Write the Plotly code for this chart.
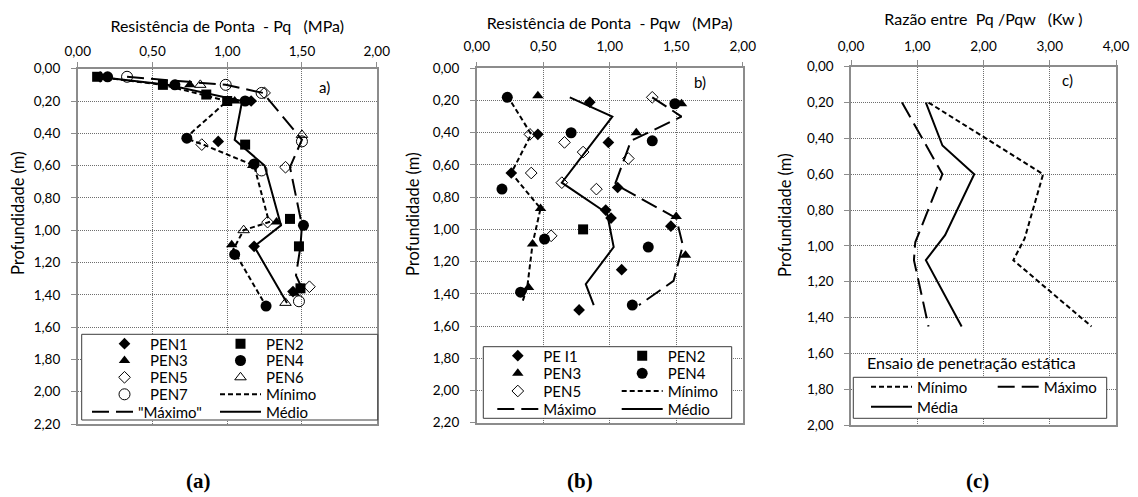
import plotly.graph_objects as go

W, H = 1138, 497
FONT = "Lato"
BLACK = "#000000"
AXIS_GREY = "#8c8c8c"
GRID_GREY = "#6e6e6e"

# ---------------- Panel (a): Pq (MPa) against depth (m) ----------------
a_pen1_depth = [0.05, 0.20, 0.45, 1.10, 1.38]
a_pen1_pq = [0.15, 1.16, 0.94, 1.18, 1.44]
a_pen2_depth = [0.05, 0.10, 0.16, 0.20, 0.47, 0.93, 1.10, 1.36]
a_pen2_pq = [0.13, 0.57, 0.86, 1.00, 1.12, 1.42, 1.48, 1.49]
a_pen3_depth = [0.10, 0.20, 0.60, 0.95, 1.09, 1.39]
a_pen3_pq = [0.75, 1.05, 1.17, 1.33, 1.03, 1.45]
a_pen4_depth = [0.05, 0.10, 0.20, 0.43, 0.59, 0.97, 1.15, 1.47]
a_pen4_pq = [0.20, 0.65, 1.12, 0.73, 1.18, 1.51, 1.05, 1.26]
a_pen5_depth = [0.15, 0.47, 0.61, 0.95, 1.35]
a_pen5_pq = [1.25, 0.83, 1.39, 1.27, 1.55]
a_pen6_depth = [0.10, 0.41, 1.00, 1.45]
a_pen6_pq = [0.82, 1.50, 1.11, 1.39]
a_pen7_depth = [0.05, 0.10, 0.15, 0.45, 0.63, 1.44]
a_pen7_pq = [0.33, 0.99, 1.23, 1.50, 1.23, 1.48]
a_min_depth = [0.05, 0.10, 0.20, 0.43, 0.47, 0.60, 0.95, 1.00, 1.12, 1.47]
a_min_pq = [0.13, 0.57, 1.00, 0.72, 0.84, 1.18, 1.28, 1.11, 1.04, 1.26]
a_max_depth = [0.05, 0.10, 0.15, 0.44, 0.61, 0.97, 1.10, 1.28, 1.36]
a_max_pq = [0.33, 0.99, 1.24, 1.50, 1.42, 1.50, 1.49, 1.46, 1.50]
a_avg_depth = [0.05, 0.10, 0.20, 0.44, 0.60, 0.97, 1.10, 1.45]
a_avg_pq = [0.13, 0.60, 1.10, 1.05, 1.25, 1.36, 1.18, 1.40]

# ---------------- Panel (b): Pqw (MPa) against depth (m) ----------------
b_pei1_depth = [0.21, 0.41, 0.46, 0.65, 0.74, 0.88, 0.93, 0.98, 1.25, 1.50]
b_pei1_pqw = [0.85, 0.46, 0.99, 0.26, 1.06, 0.97, 1.01, 1.46, 1.09, 0.77]
b_pen2_depth = [1.00]
b_pen2_pqw = [0.80]
b_pen3_depth = [0.17, 0.22, 0.40, 0.87, 0.92, 1.09, 1.16, 1.36]
b_pen3_pqw = [0.46, 1.54, 1.20, 0.48, 1.50, 0.42, 1.57, 0.39]
b_pen4_depth = [0.18, 0.22, 0.40, 0.45, 0.75, 1.06, 1.11, 1.39, 1.47]
b_pen4_pqw = [0.23, 1.49, 0.71, 1.32, 0.19, 0.51, 1.29, 0.33, 1.17]
b_pen5_depth = [0.18, 0.41, 0.46, 0.52, 0.56, 0.65, 0.71, 0.75, 1.04]
b_pen5_pqw = [1.32, 0.40, 0.66, 0.80, 1.14, 0.41, 0.64, 0.90, 0.56]
b_min_depth = [0.17, 0.41, 0.65, 0.87, 1.09, 1.36, 1.46]
b_min_pqw = [0.23, 0.41, 0.26, 0.48, 0.42, 0.38, 0.34]
b_max_depth = [0.18, 0.30, 0.45, 0.72, 0.93, 1.10, 1.32, 1.47]
b_max_pqw = [1.32, 1.54, 1.16, 1.04, 1.50, 1.55, 1.48, 1.22]
b_avg_depth = [0.18, 0.30, 0.71, 0.90, 1.11, 1.34, 1.47]
b_avg_pqw = [0.70, 1.02, 0.64, 0.98, 1.03, 0.82, 0.88]

# ---------------- Panel (c): Kw = Pq/Pqw against depth (m) ----------------
c_min_depth = [0.20, 0.60, 0.96, 1.08, 1.45]
c_min_kw = [1.17, 2.90, 2.62, 2.45, 3.63]
c_max_depth = [0.20, 0.60, 0.98, 1.08, 1.45]
c_max_kw = [0.77, 1.38, 0.97, 0.95, 1.17]
c_avg_depth = [0.20, 0.44, 0.60, 0.94, 1.08, 1.45]
c_avg_kw = [1.13, 1.38, 1.86, 1.42, 1.13, 1.67]

# ---------------- Styles ----------------
MARK = {
    "dia": dict(symbol="diamond", size=9, color=BLACK),
    "sq": dict(symbol="square", size=10, color=BLACK),
    "tri": dict(symbol="triangle-up", size=10, color=BLACK),
    "cir": dict(symbol="circle", size=11, color=BLACK),
    "dia_o": dict(symbol="diamond-open", size=9, color=BLACK, line=dict(width=1, color=BLACK)),
    "tri_o": dict(symbol="triangle-up-open", size=10, color=BLACK, line=dict(width=1, color=BLACK)),
    "cir_o": dict(symbol="circle-open", size=11, color=BLACK, line=dict(width=1, color=BLACK)),
}
LINE = {
    "min": dict(color=BLACK, width=2, dash="5px,3px"),
    "max": dict(color=BLACK, width=2, dash="17px,7px"),
    "avg": dict(color=BLACK, width=2),
}

TITLE_SIZE = 16
YTITLE_SIZE = 16.5
TICK_SIZE = 13.5
LEG_SIZE = 15

fig = go.Figure()


def px_x(v):
    return v / W


def px_y(v):
    return 1 - v / H


def add_points(name, xs, ys, mk, axes, legend):
    fig.add_trace(go.Scatter(
        x=xs, y=ys, name=name, mode="markers", marker=MARK[mk],
        xaxis=axes[0], yaxis=axes[1], legend=legend, cliponaxis=False,
    ))


def add_line(name, xs, ys, ln, axes, legend):
    fig.add_trace(go.Scatter(
        x=xs, y=ys, name=name, mode="lines", line=LINE[ln],
        xaxis=axes[0], yaxis=axes[1], legend=legend,
    ))


AX_A, AX_B, AX_C = ("x", "y"), ("x2", "y2"), ("x3", "y3")

# panel (a) traces, legend rows of two entries each
add_points("PEN1", a_pen1_pq, a_pen1_depth, "dia", AX_A, "legend")
add_points("PEN2", a_pen2_pq, a_pen2_depth, "sq", AX_A, "legend")
add_points("PEN3", a_pen3_pq, a_pen3_depth, "tri", AX_A, "legend2")
add_points("PEN4", a_pen4_pq, a_pen4_depth, "cir", AX_A, "legend2")
add_points("PEN5", a_pen5_pq, a_pen5_depth, "dia_o", AX_A, "legend3")
add_points("PEN6", a_pen6_pq, a_pen6_depth, "tri_o", AX_A, "legend3")
add_points("PEN7", a_pen7_pq, a_pen7_depth, "cir_o", AX_A, "legend4")
add_line("Mínimo", a_min_pq, a_min_depth, "min", AX_A, "legend4")
add_line("\"Máximo\"", a_max_pq, a_max_depth, "max", AX_A, "legend5")
add_line("Médio", a_avg_pq, a_avg_depth, "avg", AX_A, "legend5")

# panel (b)
add_points("PE I1", b_pei1_pqw, b_pei1_depth, "dia", AX_B, "legend6")
add_points("PEN2", b_pen2_pqw, b_pen2_depth, "sq", AX_B, "legend6")
add_points("PEN3", b_pen3_pqw, b_pen3_depth, "tri", AX_B, "legend7")
add_points("PEN4", b_pen4_pqw, b_pen4_depth, "cir", AX_B, "legend7")
add_points("PEN5", b_pen5_pqw, b_pen5_depth, "dia_o", AX_B, "legend8")
add_line("Mínimo", b_min_pqw, b_min_depth, "min", AX_B, "legend8")
add_line("Máximo", b_max_pqw, b_max_depth, "max", AX_B, "legend9")
add_line("Médio", b_avg_pqw, b_avg_depth, "avg", AX_B, "legend9")

# panel (c)
add_line("Mínimo", c_min_kw, c_min_depth, "min", AX_C, "legend10")
add_line("Máximo", c_max_kw, c_max_depth, "max", AX_C, "legend10")
add_line("Média", c_avg_kw, c_avg_depth, "avg", AX_C, "legend11")

# ---------------- Axes ----------------
tick_font = dict(family=FONT, size=TICK_SIZE, color=BLACK)
common = dict(
    showline=True, mirror=True, linecolor=AXIS_GREY, linewidth=1.5,
    ticks="outside", ticklen=5, tickcolor=AXIS_GREY, tickwidth=1,
    showgrid=True, gridcolor=GRID_GREY, gridwidth=1, griddash="1px,1px",
    zeroline=False, tickfont=tick_font, tickformat=".2f", automargin=False,
)

panels = [
    # (x domain px, y domain px, x max, x dtick, y max, x title, label standoff, title standoff)
    ((77.7, 376.7), (68.7, 424.0), 2.0, 0.5, 2.2, "Resistência de Ponta  - Pq   (MPa)", 1, 6),
    ((476.7, 742.7), (68.3, 422.7), 2.0, 0.5, 2.2, "Resistência de Ponta  - Pqw   (MPa)", 5, 5),
    ((851.0, 1116.0), (66.7, 425.0), 4.0, 1.0, 2.0, "Razão entre  Pq /Pqw   (Kw )", 4, 8),
]
for i, (xd, yd, xmax, dx, ymax, title, lso, tso) in enumerate(panels, start=1):
    sfx = "" if i == 1 else str(i)
    fig.update_layout(**{
        f"xaxis{sfx}": dict(
            common, domain=[px_x(xd[0]), px_x(xd[1])], range=[0, xmax], dtick=dx,
            side="top", anchor=f"y{sfx}", ticklabelstandoff=lso,
            title=dict(text=title, font=dict(family=FONT, size=TITLE_SIZE, color=BLACK), standoff=tso),
        ),
        f"yaxis{sfx}": dict(
            common, domain=[px_y(yd[1]), px_y(yd[0])], range=[ymax, 0], dtick=0.2,
            anchor=f"x{sfx}", ticklabelstandoff=8,
        ),
    })

# ---------------- Legends (one horizontal row per legend) ----------------
ITEMW = 41
ROW_OFF = (LEG_SIZE * 1.3 + 3) / 2 + 5  # legend top to row centre


def legend_row(x_left, row_centre, entry_w):
    return dict(
        orientation="h", x=px_x(x_left), y=px_y(row_centre - ROW_OFF),
        xanchor="left", yanchor="top", xref="paper", yref="paper",
        bgcolor="rgba(0,0,0,0)", borderwidth=0, itemwidth=ITEMW,
        entrywidth=entry_w, entrywidthmode="pixels",
        font=dict(family=FONT, size=LEG_SIZE, color=BLACK),
        itemclick=False, itemdoubleclick=False,
    )


# (left x px, row centre px, entry width px) for each legend row
legend_specs = [
    (99.0, 343.7, 60), (99.0, 360.5, 60), (99.0, 377.3, 60), (99.0, 394.3, 60), (87.0, 411.7, 72),
    (492.3, 355.7, 68.4), (492.3, 373.3, 68.4), (492.3, 391.0, 68.4), (492.3, 409.0, 68.4),
    (866.0, 386.7, 70.7), (866.0, 406.7, 70.7),
]
for k, (lx, r, ew) in enumerate(legend_specs, start=1):
    key = "legend" if k == 1 else f"legend{k}"
    fig.update_layout(**{key: legend_row(lx, r, ew)})

# legend frames (white panels drawn above the plot area)
frames = [
    (81.7, 334.3, 377.7, 420.0),
    (483.3, 346.7, 731.7, 418.3),
    (853.3, 377.3, 1106.7, 418.3),
]
shapes = []
for x0, y0, x1, y1 in frames:
    shapes.append(dict(
        type="rect", xref="paper", yref="paper",
        x0=px_x(x0), x1=px_x(x1), y0=px_y(y1), y1=px_y(y0),
        fillcolor="white", line=dict(color="#3c3c3c", width=1), layer="above",
    ))

# ---------------- Annotations ----------------
ann = []
ytitle_font = dict(family=FONT, size=YTITLE_SIZE, color=BLACK)
for xc, yc in [(18, 213), (413, 214), (785, 215)]:
    ann.append(dict(text="Profundidade (m)", x=px_x(xc), y=px_y(yc), xref="paper", yref="paper",
                    textangle=-90, showarrow=False, font=ytitle_font, xanchor="center", yanchor="middle"))
for txt, xc, yc in [("a)", 324, 87), ("b)", 700, 82), ("c)", 1067, 80)]:
    ann.append(dict(text=txt, x=px_x(xc), y=px_y(yc), xref="paper", yref="paper", showarrow=False,
                    font=dict(family=FONT, size=15, color=BLACK), xanchor="center", yanchor="middle"))
ann.append(dict(text="Ensaio de penetração estática", x=px_x(971), y=px_y(362), xref="paper", yref="paper",
                showarrow=False, font=dict(family=FONT, size=16, color=BLACK),
                xanchor="center", yanchor="middle"))
for txt, xc in [("(a)", 199), ("(b)", 580), ("(c)", 977)]:
    ann.append(dict(text=f"<b>{txt}</b>", x=px_x(xc), y=px_y(481), xref="paper", yref="paper",
                    showarrow=False, font=dict(family="Liberation Serif", size=21, color=BLACK),
                    xanchor="center", yanchor="middle"))

fig.update_layout(
    width=W, height=H, margin=dict(l=0, r=0, t=0, b=0),
    paper_bgcolor="white", plot_bgcolor="white",
    separators=",.", showlegend=True,
    shapes=shapes, annotations=ann,
    font=dict(family=FONT, size=13, color=BLACK),
)

fig.write_html("out.html")
